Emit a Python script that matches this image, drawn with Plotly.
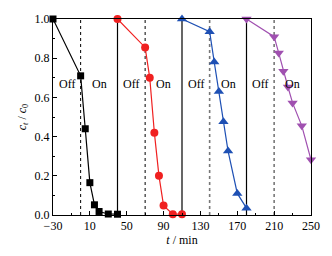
import plotly.graph_objects as go

# data
t_black = [-30, 0, 5, 10, 15, 20, 30, 40]
c_black = [1.0, 0.71, 0.44, 0.165, 0.052, 0.018, 0.005, 0.004]
t_red = [40, 70, 75, 80, 85, 90, 100, 110]
c_red = [1.0, 0.855, 0.70, 0.42, 0.20, 0.048, 0.004, 0.004]
t_blue = [110, 140, 145, 150, 155, 160, 170, 180]
c_blue = [1.0, 0.935, 0.78, 0.63, 0.476, 0.326, 0.11, 0.035]
t_purple = [180, 210, 215, 220, 225, 230, 240, 250]
c_purple = [1.0, 0.91, 0.826, 0.734, 0.653, 0.572, 0.455, 0.282]

solid_lines = [40, 110, 180]
black_dash_lines = [0, 70]
gray_dash_lines = [140, 210]
label_x = [-15, 20, 55, 90, 125, 160, 195, 230]
label_text = ["Off", "On", "Off", "On", "Off", "On", "Off", "On"]
label_y = 0.67

FONT = "Liberation Serif"

fig = go.Figure()

for xv in solid_lines:
    fig.add_shape(type="line", x0=xv, x1=xv, y0=0, y1=1, xref="x", yref="y",
                  line=dict(color="black", width=1.2), layer="below")
for xv in black_dash_lines:
    fig.add_shape(type="line", x0=xv, x1=xv, y0=0, y1=1, xref="x", yref="y",
                  line=dict(color="black", width=1, dash="dot"), layer="below")
for xv in gray_dash_lines:
    fig.add_shape(type="line", x0=xv, x1=xv, y0=0, y1=1, xref="x", yref="y",
                  line=dict(color="#777777", width=1.6, dash="dot"), layer="below")

series = [
    (t_black, c_black, "#000000", "square", 7),
    (t_red, c_red, "#F02020", "circle", 8),
    (t_blue, c_blue, "#1E50B4", "triangle-up", 9),
    (t_purple, c_purple, "#A050B0", "triangle-down", 9),
]
for tx, cy, col, sym, sz in series:
    fig.add_trace(go.Scatter(x=tx, y=cy, mode="lines+markers",
                             line=dict(color=col, width=1.2),
                             marker=dict(color=col, symbol=sym, size=sz),
                             cliponaxis=False, showlegend=False))

for xv, txt in zip(label_x, label_text):
    fig.add_annotation(x=xv, y=label_y, text=txt, showarrow=False,
                       font=dict(family=FONT, size=12, color="black"))

fig.update_layout(
    width=332, height=256,
    margin=dict(l=53, r=15, t=13, b=36),
    paper_bgcolor="white", plot_bgcolor="white",
    font=dict(family=FONT, size=12, color="black"),
    xaxis=dict(range=[-30, 250], tickvals=[-30, 10, 50, 90, 130, 170, 210, 250],
               ticks="inside", ticklen=4, tickcolor="black",
               minor=dict(tickvals=[-10, 30, 70, 110, 150, 190, 230], ticks="inside",
                          ticklen=2, tickcolor="black"),
               showline=True, linecolor="black", linewidth=1, mirror=True,
               showgrid=False, zeroline=False,
               title=dict(text="<i>t</i> / min", standoff=2, font=dict(size=12))),
    yaxis=dict(range=[0, 1], tickvals=[0, 0.2, 0.4, 0.6, 0.8, 1.0], tickformat=".1f",
               ticks="inside", ticklen=4, tickcolor="black",
               minor=dict(tickvals=[0.1, 0.3, 0.5, 0.7, 0.9], ticks="inside",
                          ticklen=2, tickcolor="black"),
               showline=True, linecolor="black", linewidth=1, mirror=True,
               showgrid=False, zeroline=False,
               title=dict(text="<i>c</i><sub><i>t</i></sub> / <i>c</i><sub>0</sub>",
                          standoff=5, font=dict(size=12))),
)

fig.write_html("out.html", config={"displayModeBar": False},
               post_script="document.body.style.margin='0px';")
